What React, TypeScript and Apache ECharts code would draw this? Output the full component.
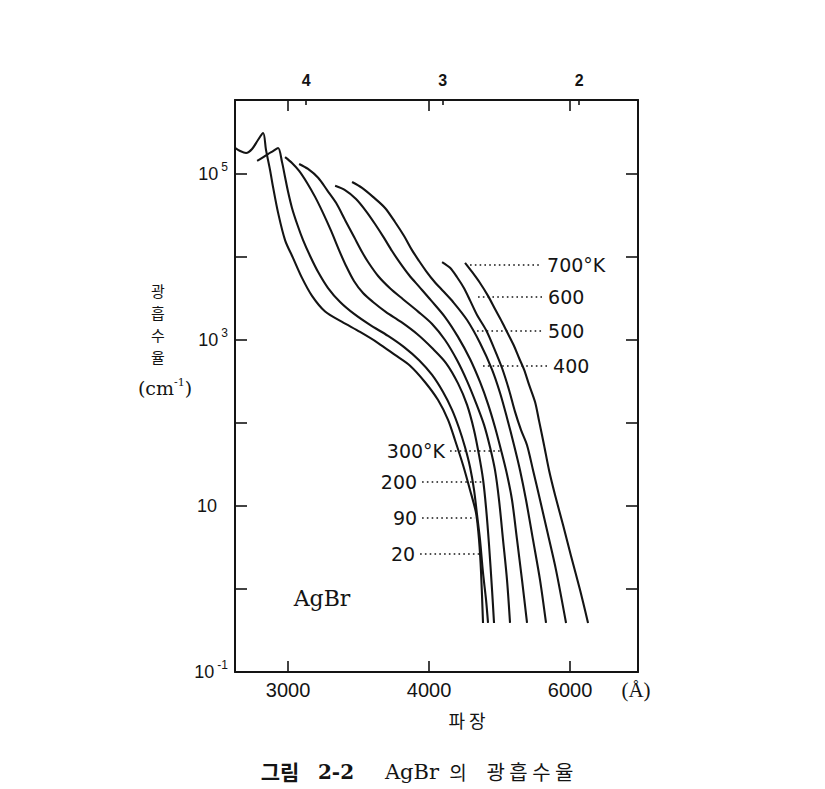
import React, { useEffect, useRef } from 'react';
import * as echarts from 'echarts';

// Temperatures (K) of the eight absorption curves
const TEMPERATURES = [20, 90, 200, 300, 400, 500, 600, 700];

// Each curve: [wavelength (Å), absorption coefficient (cm^-1)]
const curve20K: [number, number][] = [
  [2742, 206000], [2765, 189000], [2792, 179000], [2820, 200000], [2848, 257000], [2873, 312000],
  [2887, 195000], [2907, 112000], [2922, 70000], [2948, 34000], [2984, 16000], [3027, 9700],
  [3076, 5600], [3133, 3400], [3211, 2200], [3318, 1650], [3439, 1250], [3570, 920], [3702, 660],
  [3828, 490], [3963, 310], [4087, 189], [4188, 109], [4262, 62], [4350, 31], [4429, 15.6],
  [4500, 8.2], [4536, 3.9], [4561, 1.56], [4585, 0.39],
];
const curve90K: [number, number][] = [
  [2844, 144000], [2868, 156000], [2897, 174000], [2922, 189000], [2948, 206000], [2968, 140000],
  [2984, 92000], [3000, 61000], [3021, 39000], [3049, 25000], [3082, 16000], [3122, 10300],
  [3169, 6600], [3229, 4230], [3305, 2870], [3398, 2060], [3510, 1520], [3647, 1120], [3777, 820],
  [3908, 570], [4029, 379], [4137, 236], [4230, 144], [4305, 87], [4372, 51], [4429, 29.5],
  [4476, 15.6], [4512, 7.8], [4548, 3.9], [4585, 1.56], [4623, 0.74], [4648, 0.39],
];
const curve200K: [number, number][] = [
  [2984, 160000], [3021, 136000], [3060, 109000], [3105, 78000], [3151, 53000], [3198, 34000],
  [3248, 20600], [3298, 12100], [3344, 7800], [3398, 5100], [3460, 3680], [3532, 2870],
  [3631, 2170], [3752, 1650], [3890, 1180], [4029, 800], [4167, 528], [4294, 300], [4395, 165],
  [4476, 82], [4536, 41], [4585, 21], [4623, 9.5], [4661, 3.39], [4700, 0.97], [4726, 0.39],
];
const curve300K: [number, number][] = [
  [3060, 132000], [3110, 115000], [3169, 90000], [3223, 64000], [3279, 45000], [3337, 28000],
  [3398, 17400], [3453, 11500], [3496, 8700], [3570, 5900], [3662, 4200], [3768, 3100],
  [3899, 2200], [4029, 1560], [4157, 1000], [4284, 570], [4395, 320], [4500, 174], [4598, 95],
  [4674, 51], [4739, 27], [4793, 11.8], [4848, 3.9], [4904, 1.28], [4947, 0.39],
];
const curve400K: [number, number][] = [
  [3273, 72000], [3337, 64000], [3411, 50000], [3481, 35800], [3547, 25000], [3615, 17000],
  [3678, 11800], [3743, 8500], [3819, 6070], [3908, 4400], [4019, 3000], [4157, 1890],
  [4294, 1090], [4429, 590], [4548, 312], [4648, 169], [4739, 89], [4821, 47], [4904, 24],
  [4976, 11.8], [5051, 3.9], [5127, 1.28], [5206, 0.39],
];
const curve500K: [number, number][] = [
  [3384, 80000], [3453, 68000], [3532, 53000], [3623, 39000], [3702, 26400], [3777, 17900],
  [3845, 12100], [3908, 8950], [3972, 6780], [4048, 5100], [4137, 3890], [4241, 2870],
  [4395, 1740], [4548, 920], [4700, 440], [4807, 230], [4904, 115], [5006, 54], [5096, 27],
  [5190, 11.8], [5304, 3.9], [5423, 1.28], [5529, 0.39],
];
const curve600K: [number, number][] = [
  [4127, 8700], [4209, 7400], [4284, 5700], [4361, 4200], [4429, 3000], [4512, 2000],
  [4623, 1320], [4726, 800], [4834, 460], [4933, 250], [5021, 136], [5112, 82], [5206, 54],
  [5304, 27], [5423, 11.8], [5566, 4.5], [5716, 1.69], [5916, 0.39],
];
const curve700K: [number, number][] = [
  [4372, 8500], [4453, 6600], [4548, 4860], [4648, 3400], [4739, 2360], [4834, 1650],
  [4919, 1180], [5006, 847], [5081, 607], [5159, 440], [5238, 290], [5338, 179], [5406, 106],
  [5494, 54], [5584, 27], [5697, 13.6], [5855, 5.9], [6021, 2.5], [6221, 0.97], [6409, 0.39],
];
const CURVES = [curve20K, curve90K, curve200K, curve300K, curve400K, curve500K, curve600K, curve700K];

// Temperature labels with dotted leaders (in data units)
const LEADER_TEXT = ['20', '90', '200', '300°K', '400', '500', '600', '700°K'];
const LEADER_ALPHA = [2.64, 7.2, 19.5, 46, 486, 1280, 3300, 8000];
const LEADER_FROM = [3917, 3935, 3935, 4209, 4585, 4512, 4524, 4429];
const LEADER_TO = [4536, 4488, 4573, 4834, 5566, 5476, 5476, 5458];
const LEADER_SIDE = ['start', 'start', 'start', 'start', 'end', 'end', 'end', 'end'];

// Axis ranges and ticks
const LAMBDA_MIN = 2742;
const LAMBDA_MAX = 7905;
const ALPHA_MIN = 0.1;
const ALPHA_MAX = 779000;
const BOTTOM_TICKS = [3000, 4000, 6000];
const TOP_EV_TICKS = [2, 3, 4];
const Y_LABELED_EXP = [-1, 1, 3, 5];

const HC = 12398.4; // eV·Å
const toV = (l: number) => 12000 / l; // axis runs linear in 1/λ

const INK = '#141414';

export default function App() {
  const ref = useRef<HTMLDivElement>(null);

  useEffect(() => {
    if (!ref.current) return;
    const chart = echarts.init(ref.current, undefined, { renderer: 'svg' });
    const vMin = toV(LAMBDA_MAX);
    const vMax = toV(LAMBDA_MIN);
    const evMin = HC / LAMBDA_MAX;
    const evMax = HC / LAMBDA_MIN;
    const axisLine = { show: true, onZero: false, lineStyle: { color: INK, width: 2 } };
    const tickStyle = { color: INK, width: 1.6 };

    const series = CURVES.map((c, i) => ({
      type: 'line',
      name: TEMPERATURES[i] + 'K',
      data: c.map(([l, a]) => [toV(l), a]),
      showSymbol: false,
      smooth: 0.3,
      lineStyle: { color: INK, width: 2.1 },
      silent: true,
      markLine: {
        silent: true,
        symbol: ['none', 'none'],
        lineStyle: { color: INK, width: 1.6, type: [1.6, 3.2] },
        label: {
          show: true,
          position: LEADER_SIDE[i],
          distance: 5,
          formatter: LEADER_TEXT[i],
          color: INK,
          fontSize: 19,
          fontFamily: 'DejaVu Sans',
        },
        data: [[
          { coord: [toV(LEADER_FROM[i]), LEADER_ALPHA[i]] },
          { coord: [toV(LEADER_TO[i]), LEADER_ALPHA[i]] },
        ]],
      },
    }));

    const yLabelFormatter = (val: number) => {
      const lg = Math.log10(val);
      const e = Math.round(lg);
      if (Math.abs(lg - e) > 0.01 || Y_LABELED_EXP.indexOf(e) < 0) return '';
      if (e === 1) return '{p|10}';
      return '{b|10}{s|' + e + '}';
    };

    const centered = { align: 'center', verticalAlign: 'middle', textAlign: 'center', textVerticalAlign: 'middle' };

    chart.setOption({
      animation: false,
      backgroundColor: '#ffffff',
      grid: { left: 235, top: 100, width: 403, height: 572 },
      xAxis: [
        {
          type: 'value', position: 'bottom', inverse: true, min: vMin, max: vMax,
          axisLine, splitLine: { show: false },
          axisTick: { inside: true, length: 11, lineStyle: tickStyle, customValues: BOTTOM_TICKS.map(toV) },
          axisLabel: {
            customValues: BOTTOM_TICKS.map(toV),
            formatter: (v: number) => String(Math.round(12000 / v)),
            color: INK, fontSize: 20, fontFamily: 'Liberation Sans', margin: 8,
          },
        },
        {
          type: 'value', position: 'top', inverse: true, min: vMin, max: vMax,
          axisLine, splitLine: { show: false },
          axisTick: { inside: true, length: 11, lineStyle: tickStyle, customValues: BOTTOM_TICKS.map(toV) },
          axisLabel: { show: false },
        },
        {
          type: 'value', position: 'top', inverse: true, min: evMin, max: evMax,
          axisLine: { show: false, onZero: false }, splitLine: { show: false },
          axisTick: { inside: true, length: 5, lineStyle: tickStyle, customValues: TOP_EV_TICKS },
          axisLabel: {
            customValues: TOP_EV_TICKS,
            formatter: (v: number) => String(Math.round(v)),
            color: INK, fontSize: 16, fontWeight: 'bold', fontFamily: 'Liberation Sans', margin: 12,
          },
        },
      ],
      yAxis: [
        {
          type: 'log', logBase: 10, position: 'left', min: ALPHA_MIN, max: ALPHA_MAX,
          axisLine, splitLine: { show: false }, minorTick: { show: false },
          axisTick: { inside: true, length: 12, lineStyle: tickStyle },
          axisLabel: {
            formatter: yLabelFormatter, margin: 7,
            rich: {
              b: { fontSize: 18, fontFamily: 'Liberation Sans', color: INK, lineHeight: 26 },
              p: { fontSize: 18, fontFamily: 'Liberation Sans', color: INK, lineHeight: 26, padding: [0, 11, 0, 0] },
              s: { fontSize: 12, fontFamily: 'Liberation Sans', color: INK, lineHeight: 12, verticalAlign: 'top', padding: [0, 0, 0, 3] },
            },
          },
        },
        {
          type: 'log', logBase: 10, position: 'right', min: ALPHA_MIN, max: ALPHA_MAX,
          axisLine, splitLine: { show: false },
          axisTick: { inside: true, length: 12, lineStyle: tickStyle },
          axisLabel: { show: false },
        },
      ],
      series,
      graphic: [
        ...['광', '흡', '수', '율'].map((ch, i) => ({
          type: 'text', x: 158, y: 290 + i * 22,
          style: { text: ch, fontSize: 15, fontFamily: 'Noto Sans CJK KR', fill: INK, ...centered },
        })),
        {
          type: 'text', x: 165, y: 388,
          style: {
            text: '{a|(cm}{s|-1}{a|)}', fill: INK, ...centered,
            rich: {
              a: { fontSize: 19, fontFamily: 'DejaVu Serif', fill: INK, lineHeight: 22 },
              s: { fontSize: 11, fontFamily: 'DejaVu Serif', fill: INK, lineHeight: 12, verticalAlign: 'top' },
            },
          },
        },
        {
          type: 'text', x: 322, y: 598,
          style: { text: 'AgBr', fontSize: 22, fontFamily: 'DejaVu Serif', fill: INK, ...centered },
        },
        {
          type: 'text', x: 636, y: 690,
          style: { text: '(Å)', fontSize: 21, fontFamily: 'Liberation Serif', fill: INK, ...centered },
        },
        {
          type: 'text', x: 467, y: 720,
          style: { text: '파 장', fontSize: 18, fontFamily: 'Noto Sans CJK KR', fill: INK, ...centered },
        },
        {
          type: 'text', x: 280, y: 771,
          style: { text: '그림', fontSize: 21, fontWeight: 'bold', fontFamily: 'Noto Sans CJK KR', fill: INK, ...centered },
        },
        {
          type: 'text', x: 336, y: 772,
          style: { text: '2-2', fontSize: 20, fontWeight: 'bold', fontFamily: 'DejaVu Serif', fill: INK, ...centered },
        },
        {
          type: 'text', x: 412, y: 772,
          style: { text: 'AgBr', fontSize: 21, fontFamily: 'DejaVu Serif', fill: INK, ...centered },
        },
        {
          type: 'text', x: 458, y: 771,
          style: { text: '의', fontSize: 19, fontFamily: 'Noto Sans CJK KR', fill: INK, ...centered },
        },
        {
          type: 'text', x: 530, y: 771,
          style: { text: '광 흡 수 율', fontSize: 20, fontFamily: 'Noto Sans CJK KR', fill: INK, ...centered },
        },
      ],
    });
    return () => chart.dispose();
  }, []);

  return <div ref={ref} style={{ width: 825, height: 789, position: 'absolute', left: 0, top: 0 }} />;
}
